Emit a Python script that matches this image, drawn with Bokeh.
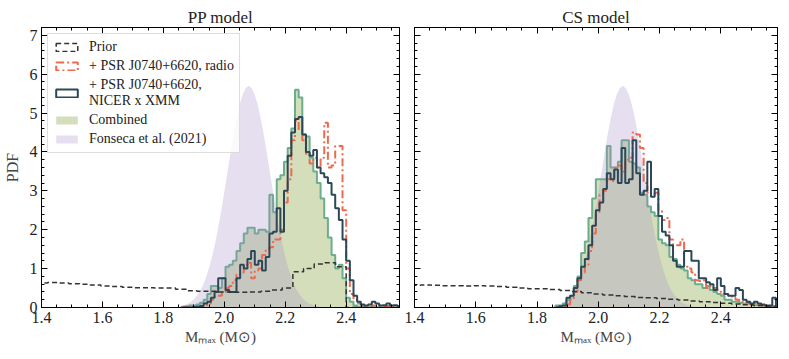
import numpy as np
from bokeh.plotting import figure
from bokeh.models import (LinearAxis, SingleIntervalTicker, PrintfTickFormatter,
                          CustomJSTickFormatter, Legend, LegendItem, Range1d)
from bokeh.layouts import row
from bokeh.embed import file_html
from bokeh.resources import INLINE

# ---------------- data ----------------
bin_start = 1.86
bin_width = 0.012
prior_start = 1.385
prior_width = 0.035

pp_combined = [0.02, 0.03, 0.05, 0.05, 0.08, 0.12, 0.2, 0.35, 0.55, 0.55,
               0.5, 0.75, 1.05, 1.1, 1.2, 1.45, 1.65, 1.9, 2.05, 2.05,
               1.9, 2.0, 2.0, 1.95, 2.9, 2.45, 3.3, 3.4, 3.75, 4.1,
               4.6, 5.6, 5.4, 4.45, 4.4, 3.85, 3.5, 3.2, 2.8, 2.3,
               1.8, 1.35, 1.0, 1.1, 0.75, 0.25, 0.15, 0.05, 0.02, 0.02,
               0.01, 0.0, 0.01, 0.0, 0.0, 0.01, 0.0, 0.0, 0.0, 0.0]
pp_radio = [0.0, 0.0, 0.0, 0.01, 0.02, 0.03, 0.06, 0.1, 0.2, 0.3,
            0.3, 0.4, 0.5, 0.55, 0.7, 0.85, 0.9, 1.1, 1.15, 0.75,
            0.95, 1.0, 1.35, 1.5, 1.55, 1.75, 1.75, 2.0, 2.7, 3.3,
            4.3, 4.8, 4.55, 4.3, 3.95, 3.7, 3.85, 3.6, 3.85, 4.75,
            3.6, 3.65, 4.15, 4.15, 2.5, 1.0, 0.35, 0.2, 0.1, 0.05,
            0.04, 0.03, 0.05, 0.03, 0.05, 0.03, 0.04, 0.06, 0.04, 0.03]
pp_nicer = [0.0, 0.0, 0.0, 0.01, 0.02, 0.04, 0.1, 0.15, 0.25, 0.4,
            0.75, 0.75, 0.45, 0.4, 0.4, 0.75, 1.1, 1.0, 1.25, 1.45,
            1.1, 1.2, 0.95, 1.3, 1.9, 1.95, 2.55, 1.95, 3.0, 3.9,
            4.5, 4.85, 4.9, 4.45, 4.0, 3.9, 4.05, 3.6, 3.45, 3.35,
            3.2, 2.9, 2.55, 2.25, 1.75, 1.2, 0.7, 0.3, 0.15, 0.08,
            0.05, 0.08, 0.15, 0.1, 0.05, 0.06, 0.1, 0.05, 0.06, 0.04]
pp_prior = [0.63, 0.64, 0.63, 0.61, 0.6, 0.58, 0.55, 0.54, 0.52, 0.51,
            0.51, 0.5, 0.5, 0.47, 0.43, 0.42, 0.42, 0.4, 0.39, 0.39,
            0.4, 0.42, 0.45, 0.5, 0.92, 1.0, 1.12, 1.15, 1.05, 0.0,
            0.0, 0.0, 0.0, 0.0]

cs_combined = [0.05, 0.05, 0.1, 0.2, 0.3, 0.55, 0.8, 1.4, 1.7, 2.3,
               2.8, 3.3, 3.3, 3.3, 4.15, 3.6, 3.6, 3.75, 4.3, 4.3,
               3.75, 3.7, 3.6, 2.95, 2.9, 2.6, 2.45, 2.35, 1.75, 1.65,
               1.6, 1.3, 1.25, 1.1, 1.0, 0.95, 0.75, 0.7, 0.6, 0.6,
               0.5, 0.55, 0.45, 0.4, 0.35, 0.3, 0.2, 0.2, 0.15, 0.15,
               0.12, 0.1, 0.12, 0.08, 0.06, 0.06, 0.05, 0.04, 0.02, 0.01]
cs_radio = [0.0, 0.02, 0.04, 0.08, 0.2, 0.4, 0.7, 0.9, 1.1, 1.45,
            1.9, 2.45, 2.9, 3.0, 3.3, 3.25, 3.6, 3.65, 3.5, 3.8,
            3.85, 4.5, 4.45, 4.1, 3.2, 2.95, 2.9, 2.95, 2.5, 2.25,
            2.3, 1.75, 1.6, 1.6, 1.75, 1.05, 1.0, 0.9, 0.7, 0.68,
            0.7, 0.5, 0.55, 0.5, 0.45, 0.35, 0.35, 0.3, 0.25, 0.2,
            0.15, 0.12, 0.1, 0.08, 0.1, 0.06, 0.05, 0.04, 0.03, 0.02]
cs_nicer = [0.0, 0.03, 0.05, 0.25, 0.3, 0.5, 0.75, 1.05, 1.25, 1.6,
            2.1, 2.5, 2.7, 3.05, 3.45, 3.3, 3.55, 3.2, 4.1, 3.2,
            3.3, 4.3, 3.45, 2.9, 3.0, 3.75, 2.85, 3.05, 2.35, 1.95,
            1.85, 1.6, 1.2, 1.05, 1.05, 1.45, 1.45, 1.2, 1.2, 0.75,
            0.75, 0.65, 0.6, 0.45, 0.75, 0.55, 0.35, 0.3, 0.3, 0.5,
            0.45, 0.2, 0.15, 0.1, 0.15, 0.1, 0.08, 0.05, 0.05, 0.25]
cs_prior = [0.57, 0.58, 0.57, 0.56, 0.56, 0.55, 0.56, 0.55, 0.54, 0.52,
            0.5, 0.48, 0.48, 0.46, 0.44, 0.41, 0.38, 0.35, 0.32, 0.3,
            0.28, 0.26, 0.25, 0.23, 0.21, 0.19, 0.17, 0.15, 0.13, 0.11,
            0.09, 0.07, 0.05, 0.04]

fonseca_x = [1.85, 1.86, 1.87, 1.88, 1.89, 1.90, 1.91, 1.92, 1.93, 1.94,
             1.95, 1.96, 1.97, 1.98, 1.99, 2.00, 2.01, 2.02, 2.03, 2.04,
             2.05, 2.06, 2.07, 2.08, 2.09, 2.10, 2.11, 2.12, 2.13, 2.14,
             2.15, 2.16, 2.17, 2.18, 2.19, 2.20, 2.21, 2.22, 2.23, 2.24,
             2.25, 2.26, 2.27, 2.28, 2.29, 2.30, 2.31]
fonseca_pdf = [0.026, 0.041, 0.063, 0.096, 0.143, 0.21, 0.30, 0.42, 0.57, 0.77,
               1.02, 1.31, 1.66, 2.05, 2.49, 2.97, 3.46, 3.95, 4.42, 4.84,
               5.20, 5.47, 5.64, 5.70, 5.64, 5.47, 5.20, 4.84, 4.42, 3.95,
               3.46, 2.97, 2.49, 2.05, 1.66, 1.31, 1.02, 0.77, 0.57, 0.42,
               0.30, 0.21, 0.143, 0.096, 0.063, 0.041, 0.026]

x_tick_interval = 0.2
y_tick_interval = 1

titles = ["PP model", "CS model"]
legend_labels = ["Prior", "+ PSR J0740+6620, radio",
                 "+ PSR J0740+6620,\nNICER x XMM", "Combined",
                 "Fonseca et al. (2021)"]

# ---------------- styles ----------------
FONT = "'Liberation Serif', serif"
C_PRIOR = "#333333"
C_RADIO = "#ee6a4c"
C_NICER = "#2c4757"
C_COMB_EDGE = "#6aae8b"
C_COMB_FILL = "#d5debb"
C_FONSECA = "#a08cc8"


def step_outline(start, width, heights):
    xs = [start]
    ys = [0.0]
    for i, h in enumerate(heights):
        xl = start + i * width
        xs += [xl, xl + width]
        ys += [h, h]
    xs.append(start + len(heights) * width)
    ys.append(0.0)
    return xs, ys


def make_ticker_x():
    return SingleIntervalTicker(interval=x_tick_interval, num_minor_ticks=4)


def make_ticker_y():
    return SingleIntervalTicker(interval=y_tick_interval, num_minor_ticks=5)


def style_axis(ax, show_labels):
    ax.major_tick_in = 6
    ax.major_tick_out = 0
    ax.minor_tick_in = 3
    ax.minor_tick_out = 0
    ax.axis_line_color = "black"
    ax.major_tick_line_color = "black"
    ax.minor_tick_line_color = "black"
    ax.major_label_text_font = FONT
    ax.major_label_text_color = "#222222"
    if show_labels:
        ax.major_label_text_font_size = "16px"
        ax.major_label_standoff = 4
    else:
        ax.formatter = CustomJSTickFormatter(code="return ''")
        ax.major_label_text_font_size = "1px"
        ax.major_label_standoff = 0


def make_panel(idx, combined, radio, nicer, prior, xmax, fwidth,
               border_left, border_right, show_y):
    p = figure(frame_width=fwidth, frame_height=280, output_backend="svg",
               toolbar_location=None,
               x_range=Range1d(1.4, xmax), y_range=Range1d(0, 7.2),
               min_border_left=border_left, min_border_right=border_right,
               min_border_top=27, min_border_bottom=10)
    p.xgrid.visible = False
    p.ygrid.visible = False
    p.outline_line_color = "black"
    p.background_fill_color = "white"

    p.title.text = titles[idx]
    p.title.align = "center"
    p.title.text_font = FONT
    p.title.text_font_size = "17px"
    p.title.text_font_style = "normal"
    p.title.text_color = "#222222"
    p.title.standoff = 2

    # axes
    xa = p.xaxis[0]
    xa.ticker = make_ticker_x()
    xa.formatter = PrintfTickFormatter(format="%.1f")
    style_axis(xa, True)
    xa.axis_label = "Mₘₐₓ (M⊙)"
    xa.axis_label_text_font = FONT
    xa.axis_label_text_font_size = "15px"
    xa.axis_label_text_font_style = "normal"
    xa.axis_label_standoff = 3

    ya = p.yaxis[0]
    ya.ticker = make_ticker_y()
    style_axis(ya, show_y)
    if show_y:
        ya.axis_label = "PDF"
        ya.axis_label_text_font = FONT
        ya.axis_label_text_font_size = "16px"
        ya.axis_label_text_font_style = "normal"
        ya.axis_label_standoff = 6

    top = LinearAxis(ticker=make_ticker_x())
    style_axis(top, False)
    p.add_layout(top, "above")
    right = LinearAxis(ticker=make_ticker_y())
    style_axis(right, False)
    p.add_layout(right, "right")

    # combined fill + edge
    cx, cy = step_outline(bin_start, bin_width, combined)
    r_comb = p.patch(cx, cy, fill_color=C_COMB_FILL, line_color=None)
    p.line(cx, cy, line_color=C_COMB_EDGE, line_width=2)

    # Fonseca
    fx = [fonseca_x[0]] + fonseca_x + [fonseca_x[-1]]
    fy = [0.0] + fonseca_pdf + [0.0]
    r_fon = p.patch(fx, fy, fill_color=C_FONSECA, fill_alpha=0.28,
                    line_color=None)

    # step lines
    rx, ry = step_outline(bin_start, bin_width, radio)
    p.line(rx, ry, line_color=C_RADIO, line_width=2, line_dash="8 3 2 3")
    nx, ny = step_outline(bin_start, bin_width, nicer)
    p.line(nx, ny, line_color=C_NICER, line_width=2)
    px_, py_ = step_outline(prior_start, prior_width, prior)
    p.line(px_, py_, line_color=C_PRIOR, line_width=1.5, line_dash="5 3")

    if idx == 0:
        nan = [np.nan]
        q_prior = p.quad(left=nan, right=nan, top=nan, bottom=nan,
                         fill_color=None, line_color=C_PRIOR,
                         line_width=1.5, line_dash="5 3")
        q_radio = p.quad(left=nan, right=nan, top=nan, bottom=nan,
                         fill_color=None, line_color=C_RADIO,
                         line_width=2, line_dash="8 3 2 3")
        q_nicer = p.quad(left=nan, right=nan, top=nan, bottom=nan,
                         fill_color=None, line_color=C_NICER, line_width=2)
        items = [LegendItem(label=legend_labels[0], renderers=[q_prior]),
                 LegendItem(label=legend_labels[1], renderers=[q_radio]),
                 LegendItem(label=legend_labels[2], renderers=[q_nicer]),
                 LegendItem(label=legend_labels[3], renderers=[r_comb]),
                 LegendItem(label=legend_labels[4], renderers=[r_fon])]
        leg = Legend(items=items, location="top_left")
        leg.label_text_font = FONT
        leg.label_text_font_size = "14px"
        leg.label_text_color = "#222222"
        leg.label_height = 15
        leg.label_standoff = 9
        leg.glyph_width = 27
        leg.glyph_height = 10
        leg.spacing = 3
        leg.padding = 5
        leg.margin = 6
        leg.border_line_color = "#bbbbbb"
        leg.border_line_width = 1
        leg.background_fill_alpha = 0.8
        p.add_layout(leg, "center")
    return p


p1 = make_panel(0, pp_combined, pp_radio, pp_nicer, pp_prior, 2.575,
                358, 36, 4, True)
p2 = make_panel(1, cs_combined, cs_radio, cs_nicer, cs_prior, 2.585,
                363, 11, 1, False)

layout = row(p1, p2)
open("out.html", "w").write(file_html(layout, INLINE))
